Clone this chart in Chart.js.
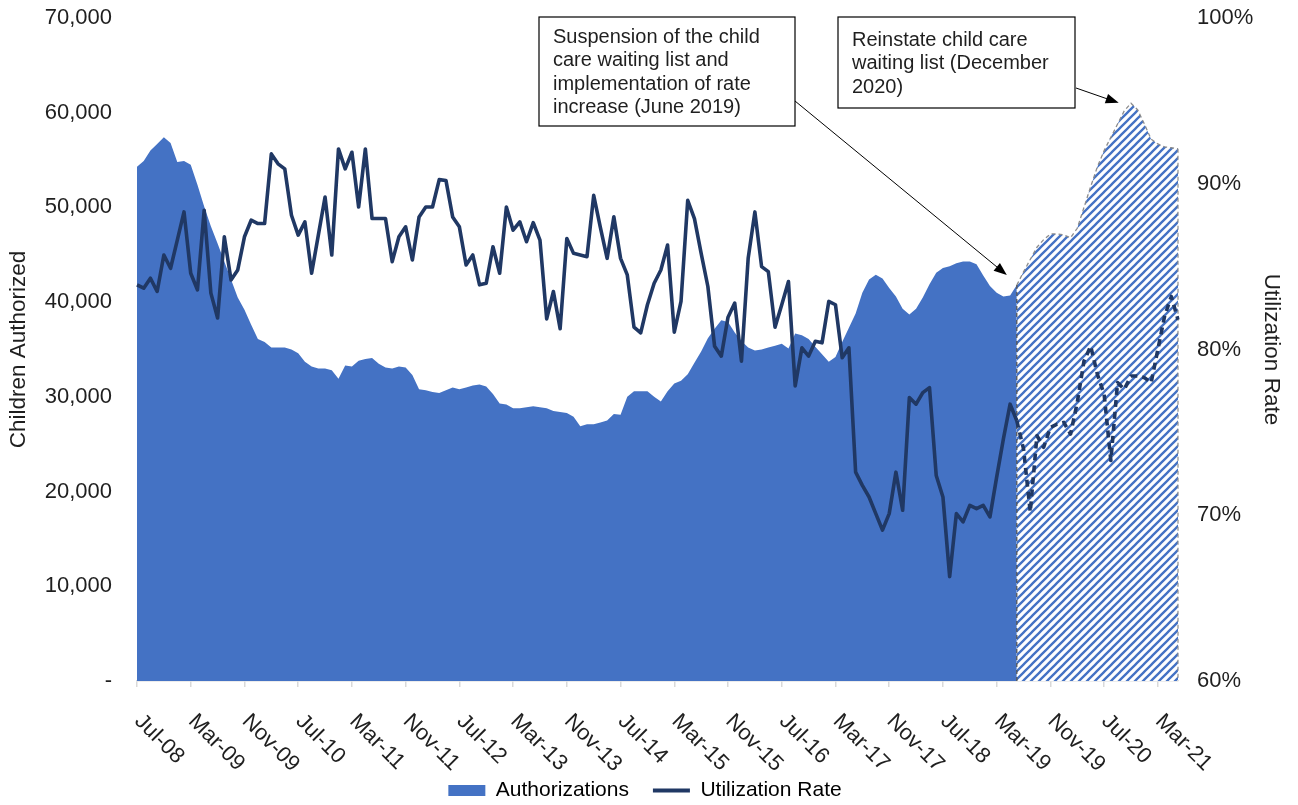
<!DOCTYPE html>
<html>
<head>
<meta charset="utf-8">
<title>Child care authorizations and utilization</title>
<script src="https://cdn.jsdelivr.net/npm/chart.js@4.4.1/dist/chart.umd.min.js"></script>
<style>
  html, body { margin: 0; padding: 0; background: #ffffff; }
  #wrap { width: 1298px; height: 805px; position: relative; }
</style>
</head>
<body>
<div id="wrap"><canvas id="chart" width="1298" height="805"></canvas></div>
<script>
// ---- categories: monthly, Jul-08 through Jun-21 ----
const monthNames = ['Jan','Feb','Mar','Apr','May','Jun','Jul','Aug','Sep','Oct','Nov','Dec'];
const yearLabels = ['08','09','10','11','12','13','14','15','16','17','18','19','20','21'];
const months = [];
for (let y = 0; y < yearLabels.length; y++) {
  for (let m = 0; m < 12; m++) {
    if (y === 0 && m < 6) continue;
    if (y === yearLabels.length - 1 && m > 5) continue;
    months.push(monthNames[m] + '-' + yearLabels[y]);
  }
}

// labelled ticks along the time axis
const tickLabels = ['Jul-08','Mar-09','Nov-09','Jul-10','Mar-11','Nov-11','Jul-12','Mar-13','Nov-13',
  'Jul-14','Mar-15','Nov-15','Jul-16','Mar-17','Nov-17','Jul-18','Mar-19','Nov-19','Jul-20','Mar-21'];

// month in which the waiting list was suspended and the rate increase began
const policyChange = 'Jun-19';
// month in which the waiting list was reinstated
const reinstated = 'Dec-20';

// children authorized, monthly
const authorizations = [
  54300, 54900, 56000, 56700, 57400, 56800, 54800, 54900, 54500, 52400, 50100, 48000,
  46200, 44300, 42400, 40500, 39200, 37600, 36100, 35800, 35200, 35200, 35200, 35000,
  34600, 33700, 33200, 33000, 33000, 32800, 31900, 33300, 33200, 33800, 34000, 34100,
  33500, 33100, 33000, 33200, 33100, 32300, 30800, 30700, 30500, 30400, 30700, 31000,
  30800, 31000, 31200, 31300, 31100, 30300, 29300, 29200, 28800, 28800, 28900, 29000,
  28900, 28800, 28500, 28400, 28300, 27900, 26900, 27100, 27100, 27300, 27500, 28200,
  28100, 30000, 30600, 30600, 30600, 30000, 29500, 30600, 31400, 31700, 32400, 33600,
  34800, 36200, 37200, 38100, 37900, 36800, 35900, 35200, 34900, 35000, 35200, 35400,
  35600, 35100, 36700, 36500, 36100, 35300, 34500, 33700, 34200, 35800, 37300, 38800,
  41000, 42400, 42900, 42500, 41500, 40600, 39300, 38700, 39300, 40500, 41900, 43100,
  43600, 43800, 44100, 44300, 44300, 44000, 42800, 41700, 41000, 40600, 40700, 41800,
  43200, 44500, 45800, 46600, 47200, 47200, 47100, 46800, 47800, 50000, 52200, 54300,
  56000, 57400, 58800, 60200, 61000, 60300, 58800, 57200, 56700, 56400, 56300, 56200
];

// utilization rate (%), monthly
const utilization = [
  83.9, 83.7, 84.3, 83.5, 85.7, 84.9, 86.6, 88.3, 84.6, 83.6, 88.4, 83.4,
  81.9, 86.8, 84.2, 84.8, 86.8, 87.8, 87.6, 87.6, 91.8, 91.2, 90.9, 88.1,
  86.9, 87.7, 84.6, 86.9, 89.2, 85.7, 92.1, 90.9, 91.9, 88.6, 92.1, 87.9,
  87.9, 87.9, 85.3, 86.8, 87.4, 85.4, 88.0, 88.6, 88.6, 90.25, 90.2, 88.0,
  87.4, 85.1, 85.7, 83.9, 84.0, 86.2, 84.6, 88.6, 87.2, 87.7, 86.5, 87.65,
  86.6, 81.85, 83.5, 81.25, 86.7, 85.8, 85.7, 85.6, 89.3, 87.35, 85.5, 88.0,
  85.5, 84.5, 81.35, 81.0, 82.7, 84.0, 84.8, 86.3, 81.05, 82.9, 89.0, 87.9,
  85.8, 83.8, 80.2, 79.6, 81.95, 82.8, 79.3, 85.5, 88.3, 85.0, 84.7, 81.35,
  82.7, 84.1, 77.8, 80.1, 79.6, 80.5, 80.4, 82.9, 82.7, 79.5, 80.1, 72.6,
  71.8, 71.1, 70.1, 69.1, 70.1, 72.6, 70.3, 77.1, 76.7, 77.4, 77.7, 72.4,
  71.1, 66.3, 70.1, 69.6, 70.6, 70.4, 70.6, 69.9, 72.3, 74.6, 76.7, 75.7,
  74.0, 70.2, 74.8, 74.1, 75.3, 75.5, 75.6, 74.9, 76.8, 79.3, 80.2, 78.5,
  77.3, 73.3, 78.0, 77.6, 78.4, 78.4, 78.3, 78.0, 80.0, 82.0, 83.2, 81.8
];

// ---- styling ----
const FONT = '"Liberation Sans", Arial, Helvetica, sans-serif';
const TEXT = '#1f1f1f';
const AREA_BLUE = '#4472C4';
const NAVY = '#203864';
const AXIS_GRAY = '#d9d9d9';
Chart.defaults.font.family = FONT;
Chart.defaults.color = TEXT;

const splitIndex = months.indexOf(policyChange);
const solidAuth = authorizations.map((v, i) => (i <= splitIndex ? v : null));
const hatchedAuth = authorizations.map((v, i) => (i >= splitIndex ? v : null));

// diagonal stripe fill for the period after the policy change
function stripePattern() {
  const size = 8;
  const c = document.createElement('canvas');
  c.width = size; c.height = size;
  const g = c.getContext('2d');
  g.fillStyle = '#ffffff';
  g.fillRect(0, 0, size, size);
  g.strokeStyle = AREA_BLUE;
  g.lineWidth = 2.3;
  g.beginPath();
  g.moveTo(-2, size + 2); g.lineTo(size + 2, -2);
  g.moveTo(-2, 2); g.lineTo(2, -2);
  g.moveTo(size - 2, size + 2); g.lineTo(size + 2, size - 2);
  g.stroke();
  return g.createPattern(c, 'repeat');
}

// text boxes with leader arrows
const notes = [
  { left: 539, top: 17, width: 256, height: 109, lineGap: 23.5, firstLine: 37,
    lines: ['Suspension of the child', 'care waiting list and', 'implementation of rate', 'increase (June 2019)'],
    from: [795, 101], target: policyChange, dx: -10, dy: -10 },
  { left: 838, top: 17, width: 237, height: 91, lineGap: 23.5, firstLine: 40,
    lines: ['Reinstate child care', 'waiting list (December', '2020)'],
    from: [1076, 88], target: reinstated, dx: -19, dy: -7 }
];

function drawArrow(ctx, x0, y0, x1, y1) {
  const ang = Math.atan2(y1 - y0, x1 - x0);
  const len = 13, half = 5;
  ctx.save();
  ctx.strokeStyle = '#000';
  ctx.fillStyle = '#000';
  ctx.lineWidth = 1;
  ctx.beginPath();
  ctx.moveTo(x0, y0);
  ctx.lineTo(x1 - Math.cos(ang) * len * 0.8, y1 - Math.sin(ang) * len * 0.8);
  ctx.stroke();
  ctx.beginPath();
  ctx.moveTo(x1, y1);
  ctx.lineTo(x1 - Math.cos(ang) * len + Math.sin(ang) * half, y1 - Math.sin(ang) * len - Math.cos(ang) * half);
  ctx.lineTo(x1 - Math.cos(ang) * len - Math.sin(ang) * half, y1 - Math.sin(ang) * len + Math.cos(ang) * half);
  ctx.closePath();
  ctx.fill();
  ctx.restore();
}

const decorations = {
  id: 'decorations',
  afterDatasetDraw(chart, args) {
    if (args.index !== 1) return;
    // dashed vertical edges of the striped region
    const pts = args.meta.data;
    const yBase = chart.scales.y.getPixelForValue(0);
    const ctx = chart.ctx;
    ctx.save();
    ctx.setLineDash([4, 3]);
    ctx.lineWidth = 1.2;
    const a = pts[splitIndex], b = pts[pts.length - 1];
    ctx.strokeStyle = '#4d4d4d';
    ctx.beginPath(); ctx.moveTo(a.x, a.y); ctx.lineTo(a.x, yBase); ctx.stroke();
    ctx.strokeStyle = '#8c8c8c';
    ctx.beginPath(); ctx.moveTo(b.x, b.y); ctx.lineTo(b.x, yBase); ctx.stroke();
    ctx.restore();
  },
  afterDraw(chart) {
    const ctx = chart.ctx;
    const xs = chart.scales.x, ys = chart.scales.y;
    // rotated month labels
    ctx.save();
    ctx.font = '22px ' + FONT;
    ctx.fillStyle = TEXT;
    ctx.textAlign = 'left';
    ctx.textBaseline = 'middle';
    tickLabels.forEach(lbl => {
      const x = xs.getPixelForValue(months.indexOf(lbl));
      ctx.save();
      ctx.translate(x + 1, xs.top + 37);
      ctx.rotate(Math.PI / 4);
      ctx.fillText(lbl, 0, 0);
      ctx.restore();
    });
    ctx.restore();

    // annotation boxes
    notes.forEach(n => {
      const idx = months.indexOf(n.target);
      const tx = xs.getPixelForValue(idx) + n.dx;
      const ty = ys.getPixelForValue(authorizations[idx]) + n.dy;
      drawArrow(ctx, n.from[0], n.from[1], tx, ty);
      ctx.save();
      ctx.fillStyle = '#ffffff';
      ctx.fillRect(n.left, n.top, n.width, n.height);
      ctx.strokeStyle = '#000000';
      ctx.lineWidth = 1.2;
      ctx.strokeRect(n.left, n.top, n.width, n.height);
      ctx.fillStyle = TEXT;
      ctx.font = '20px ' + FONT;
      ctx.textAlign = 'left';
      ctx.textBaseline = 'middle';
      n.lines.forEach((t, k) => ctx.fillText(t, n.left + 14, n.firstLine + k * n.lineGap));
      ctx.restore();
    });
  }
};

new Chart(document.getElementById('chart'), {
  type: 'line',
  data: {
    labels: months,
    datasets: [
      {
        label: 'Authorizations',
        data: solidAuth,
        yAxisID: 'y',
        borderWidth: 0,
        borderColor: AREA_BLUE,
        backgroundColor: AREA_BLUE,
        fill: 'origin',
        pointRadius: 0,
        spanGaps: false,
        order: 2
      },
      {
        label: 'Authorizations (after June 2019)',
        data: hatchedAuth,
        yAxisID: 'y',
        borderWidth: 1.3,
        borderColor: '#8c8c8c',
        borderDash: [4, 3],
        backgroundColor: stripePattern(),
        fill: 'origin',
        pointRadius: 0,
        order: 1
      },
      {
        label: 'Utilization Rate',
        data: utilization,
        yAxisID: 'y1',
        borderColor: NAVY,
        borderWidth: 3.6,
        borderJoinStyle: 'round',
        pointRadius: 0,
        fill: false,
        order: 0,
        segment: {
          borderDash: ctx => (ctx.p0DataIndex >= splitIndex ? [7, 5] : undefined)
        }
      }
    ]
  },
  options: {
    responsive: false,
    animation: false,
    events: [],
    layout: { padding: { left: 2, right: 10, top: 18, bottom: -6 } },
    scales: {
      x: {
        type: 'category',
        offset: false,
        ticks: { display: false, autoSkip: false },
        grid: {
          display: true,
          drawOnChartArea: false,
          drawTicks: true,
          tickLength: 6,
          lineWidth: 1.5,
          color: ctx => (ctx.index % 8 === 0 ? AXIS_GRAY : 'rgba(0,0,0,0)')
        },
        border: { display: true, color: AXIS_GRAY, width: 1.5 },
        afterFit: s => { s.height = 75; }
      },
      y: {
        position: 'left',
        min: 0,
        max: 70000,
        ticks: {
          stepSize: 10000,
          padding: 0,
          font: { size: 22 },
          color: TEXT,
          callback: v => (v === 0 ? '-' : v.toLocaleString('en-US'))
        },
        grid: { display: false, drawTicks: true, tickLength: 25 },
        border: { display: false },
        title: { display: true, text: 'Children Authorized', font: { size: 22.5 }, color: TEXT, padding: { top: 3, bottom: 3 } },
        afterFit: s => { s.width = 135; }
      },
      y1: {
        position: 'right',
        min: 60,
        max: 100,
        ticks: {
          stepSize: 10,
          padding: 0,
          font: { size: 22 },
          color: TEXT,
          callback: v => v + '%'
        },
        grid: { display: false, drawTicks: true, tickLength: 19 },
        border: { display: false },
        title: { display: true, text: 'Utilization Rate', font: { size: 22.5 }, color: TEXT, padding: { top: 3, bottom: 3 } },
        afterFit: s => { s.width = 110; }
      }
    },
    plugins: {
      tooltip: { enabled: false },
      legend: {
        position: 'bottom',
        labels: {
          usePointStyle: true,
          pointStyleWidth: 37,
          boxHeight: 11,
          padding: 24,
          color: TEXT,
          font: { size: 21 },
          generateLabels: () => [
            { text: 'Authorizations', fillStyle: AREA_BLUE, strokeStyle: AREA_BLUE, lineWidth: 0, pointStyle: 'rect', datasetIndex: 0, hidden: false },
            { text: 'Utilization Rate', fillStyle: NAVY, strokeStyle: NAVY, lineWidth: 4, pointStyle: 'line', datasetIndex: 2, hidden: false }
          ]
        }
      }
    }
  },
  plugins: [decorations]
});
</script>
</body>
</html>
